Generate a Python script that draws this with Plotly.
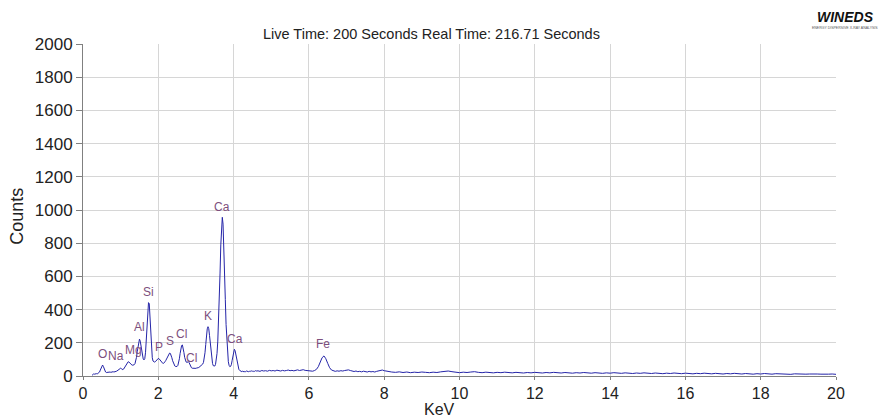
import plotly.graph_objects as go

# ---- data ----
# segment A: 0.24 .. 4.60 keV, 0.02 keV channels
seg_a_start, seg_a_step = 0.24, 0.02
seg_a_counts = [
    4, 9, 12, 11, 13, 12, 14, 13, 16, 18, 24, 36, 50, 62, 66, 58, 44, 31, 24, 21,   # 0.24-0.62
    22, 20, 23, 21, 24, 22, 25, 23, 26, 24, 27, 25, 28, 30, 33, 38, 42, 46, 47, 44,  # 0.64-1.02
    40, 38, 42, 50, 60, 70, 79, 85, 86, 84, 78, 72, 68, 66, 65, 66, 68, 74, 88, 112,  # 1.04-1.42
    146, 184, 212, 222, 210, 180, 146, 118, 102, 97, 104, 140, 220, 330, 425, 442, 436, 360, 250, 160,  # 1.44-1.82
    110, 90, 86, 84, 86, 90, 96, 103, 106, 104, 98, 90, 82, 78, 76, 77, 80, 86, 94, 104,  # 1.84-2.22
    115, 126, 134, 138, 136, 126, 110, 92, 76, 66, 60, 57, 56, 58, 64, 80, 104, 136, 168, 184,  # 2.24-2.62
    187, 172, 142, 112, 92, 84, 82, 85, 86, 80, 68, 56, 50, 47, 46, 46, 45, 47, 46, 48,  # 2.64-3.02
    47, 50, 52, 55, 58, 62, 66, 72, 82, 104, 140, 190, 245, 284, 297, 285, 245, 190, 138, 100,  # 3.04-3.42
    76, 62, 58, 60, 70, 92, 136, 210, 320, 460, 620, 790, 910, 956, 915, 800, 630, 460, 310, 200,  # 3.44-3.82
    128, 86, 64, 56, 58, 68, 92, 124, 152, 161, 152, 126, 96, 70, 52, 40, 34, 30, 28, 26,  # 3.84-4.22
    29, 27, 25, 28, 26, 30, 27, 29, 26, 28, 30, 27, 31, 29, 27, 30, 28, 32, 30,  # 4.24-4.60
]
# segment B: 4.65 .. 8.00 keV, 0.05 keV channels
seg_b_start, seg_b_step = 4.65, 0.05
seg_b_counts = [
    31, 28, 33, 30, 32, 29, 34, 31, 33, 30, 35, 32, 30, 34, 31, 33, 36, 32, 34, 31,  # 4.65-5.60
    35, 37, 33, 36, 38, 34, 32, 30, 31, 29, 33, 40, 56, 84, 110, 121, 104, 76, 50, 36,  # 5.65-6.60
    30, 28, 31, 29, 32, 30, 33, 35, 37, 33, 29, 27, 30, 26, 28, 25, 29, 26, 24, 28,  # 6.65-7.60
    25, 27, 24, 28, 30, 33, 36, 32,  # 7.65-8.00
]
# segment C: 8.1 .. 20.0 keV, 0.1 keV channels
seg_c_start, seg_c_step = 8.1, 0.1
seg_c_counts = [
    27, 24, 22, 25, 21, 24, 20, 23, 21, 24, 22, 20, 23, 21, 25, 28, 30, 26, 22, 20,  # 8.1-10.0
    23, 21, 24, 26, 22, 20, 23, 21, 19, 22, 20, 23, 21, 19, 22, 20, 18, 21, 19, 22,  # 10.1-12.0
    20, 18, 21, 19, 22, 20, 18, 21, 19, 17, 20, 18, 21, 19, 17, 20, 18, 16, 19, 17,  # 12.1-14.0
    20, 18, 16, 19, 17, 15, 18, 16, 19, 17, 15, 18, 16, 14, 17, 15, 18, 16, 14, 17,  # 14.1-16.0
    15, 13, 16, 14, 17, 15, 13, 16, 14, 12, 15, 13, 16, 14, 12, 15, 13, 11, 14, 12,  # 16.1-18.0
    15, 13, 11, 14, 12, 14, 12, 10, 13, 11, 13, 11, 12, 10, 12, 11, 13, 11, 12, 10,  # 18.1-20.0
]

kev = ([round(seg_a_start + seg_a_step * i, 3) for i in range(len(seg_a_counts))]
       + [round(seg_b_start + seg_b_step * i, 3) for i in range(len(seg_b_counts))]
       + [round(seg_c_start + seg_c_step * i, 3) for i in range(len(seg_c_counts))])
counts = seg_a_counts + seg_b_counts + seg_c_counts

peak_labels = ["O", "Na", "Mg", "Al", "Si", "P", "S", "Cl", "Cl", "K", "Ca", "Ca", "Fe"]
peak_label_x = [0.51, 0.87, 1.33, 1.50, 1.745, 2.02, 2.31, 2.62, 2.89, 3.31, 3.70, 4.04, 6.38]
peak_label_y = [132, 118, 156, 293, 508, 177, 213, 253, 107, 363, 1016, 225, 191]

x_ticks = [0, 2, 4, 6, 8, 10, 12, 14, 16, 18, 20]
y_ticks = [0, 200, 400, 600, 800, 1000, 1200, 1400, 1600, 1800, 2000]

title_text = "Live Time: 200 Seconds Real Time: 216.71 Seconds"

FONT = "Liberation Sans, Arial, sans-serif"

fig = go.Figure()
fig.add_trace(go.Scatter(
    x=kev, y=counts, mode="lines",
    line=dict(color="#2424a8", width=1),
    hoverinfo="skip", showlegend=False,
))

for t, x, y in zip(peak_labels, peak_label_x, peak_label_y):
    fig.add_annotation(x=x, y=y, text=t, showarrow=False,
                       xanchor="center", yanchor="middle",
                       font=dict(family=FONT, size=12, color="#7d4f7d"))

# chart title
fig.add_annotation(xref="paper", yref="paper", x=0.4622, y=1.030, text=title_text,
                   showarrow=False, xanchor="center", yanchor="middle",
                   font=dict(family=FONT, size=14.5, color="#222222"))
# axis titles
fig.add_annotation(xref="paper", yref="paper", x=0.474, y=-0.1, text="KeV",
                   showarrow=False, xanchor="center", yanchor="middle",
                   font=dict(family=FONT, size=16, color="#222222"))
fig.add_annotation(xref="paper", yref="paper", x=-0.0876, y=0.48, text="Counts",
                   showarrow=False, xanchor="center", yanchor="middle", textangle=-90,
                   font=dict(family=FONT, size=18, color="#222222"))
# logo
fig.add_annotation(xref="paper", yref="paper", x=1.012, y=1.081, text="<b><i>WINEDS</i></b>",
                   showarrow=False, xanchor="center", yanchor="middle",
                   font=dict(family=FONT, size=14, color="#111111"))
fig.add_annotation(xref="paper", yref="paper", x=1.012, y=1.047,
                   text="ENERGY DISPERSIVE X-RAY ANALYSIS",
                   showarrow=False, xanchor="center", yanchor="middle",
                   font=dict(family=FONT, size=3.5, color="#555555"))

fig.update_layout(
    width=885, height=418,
    margin=dict(l=83, r=49, t=44, b=42),
    paper_bgcolor="white", plot_bgcolor="white",
    font=dict(family=FONT, color="#222222"),
    xaxis=dict(range=[0, 20], tickvals=x_ticks, ticktext=[str(v) for v in x_ticks],
               showline=True, linecolor="#808080", linewidth=1,
               ticks="outside", ticklen=3, tickcolor="#808080",
               showgrid=True, gridcolor="#d6d6d6", gridwidth=1, zeroline=False,
               tickfont=dict(family=FONT, size=16, color="#222222")),
    yaxis=dict(range=[0, 2000], tickvals=y_ticks, ticktext=[str(v) for v in y_ticks],
               showline=True, linecolor="#808080", linewidth=1,
               ticks="outside", ticklen=6, tickcolor="#808080",
               showgrid=True, gridcolor="#d6d6d6", gridwidth=1, zeroline=False,
               tickfont=dict(family=FONT, size=17, color="#222222")),
)

fig.write_html("out.html")
